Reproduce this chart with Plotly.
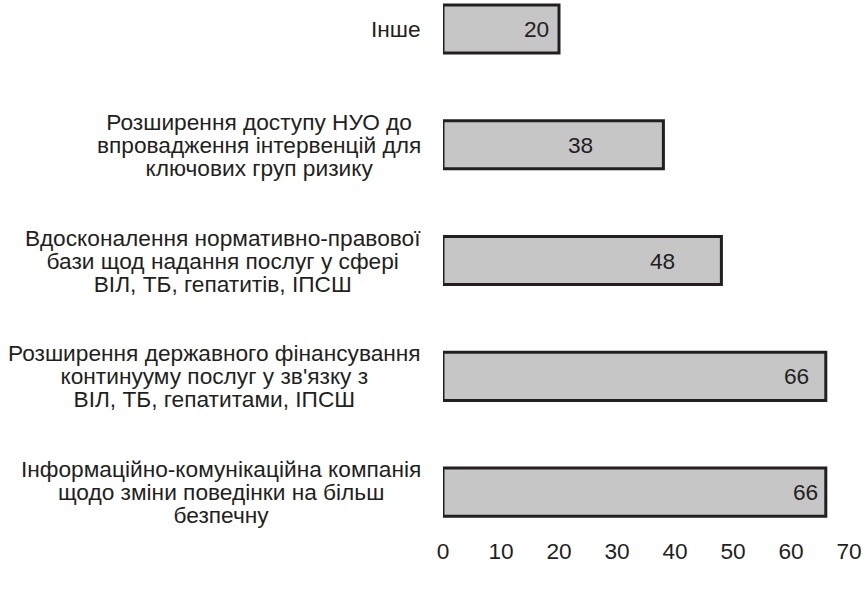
import plotly.graph_objects as go

categories = [
    "Інформаційно-комунікаційна компанія<br>щодо зміни поведінки на більш<br>безпечну",
    "Розширення державного фінансування<br>континууму послуг у зв'язку з<br>ВІЛ, ТБ, гепатитами, ІПСШ",
    "Вдосконалення нормативно-правової<br>бази щод надання послуг у сфері<br>ВІЛ, ТБ, гепатитів, ІПСШ",
    "Розширення доступу НУО до<br>впровадження інтервенцій для<br>ключових груп ризику",
    "Інше",
]
values = [66, 66, 48, 38, 20]
tick_vals = [0, 10, 20, 30, 40, 50, 60, 70]

# label offsets back from the bar end (styling)
label_offsets = [3.5, 5.0, 10.2, 14.3, 3.8]

FONT = "Liberation Sans, Arial, sans-serif"
FS = 22.7
TXT = "#231f20"
LINE_GAP = 23  # desired px between label lines
BASE_FS = LINE_GAP / 1.3  # plotly line spacing is 1.3em of the base font

fig = go.Figure()
fig.add_trace(go.Bar(
    x=values,
    y=categories,
    orientation="h",
    width=0.415,
    marker=dict(color="#c6c6c6", line=dict(color="#231f20", width=3)),
    hoverinfo="x",
))

annotations = []
for cat, v, off in zip(categories, values, label_offsets):
    annotations.append(dict(
        x=v - off, y=cat, xref="x", yref="y", text=str(v), showarrow=False,
        font=dict(family=FONT, size=FS, color=TXT), xanchor="center", yanchor="middle",
    ))
    lines = cat.split("<br>")
    txt = "<br>".join('<span style="font-size:%.1fpx">%s</span>' % (FS, ln) for ln in lines)
    annotations.append(dict(
        x=0, y=cat, xref="paper", yref="y", text=txt, showarrow=False,
        align="center", font=dict(family=FONT, size=BASE_FS, color=TXT),
        xanchor="right", yanchor="middle", xshift=-20,
    ))

fig.update_layout(
    width=865, height=593,
    margin=dict(l=443, r=16, t=0, b=58),
    paper_bgcolor="white", plot_bgcolor="white",
    showlegend=False,
    annotations=annotations,
    font=dict(family=FONT, size=FS, color=TXT),
    xaxis=dict(range=[0, 70], tickvals=tick_vals, showgrid=False, zeroline=False,
               showline=False, ticks="",
               tickfont=dict(family=FONT, size=FS, color=TXT)),
    yaxis=dict(range=[-0.37, 4.25], showticklabels=False, showgrid=False, zeroline=False,
               showline=False, ticks="", categoryorder="array", categoryarray=categories),
)

fig.write_html("out.html", config={"displayModeBar": False},
               post_script="document.body.style.margin='0';document.body.style.overflow='hidden';")
